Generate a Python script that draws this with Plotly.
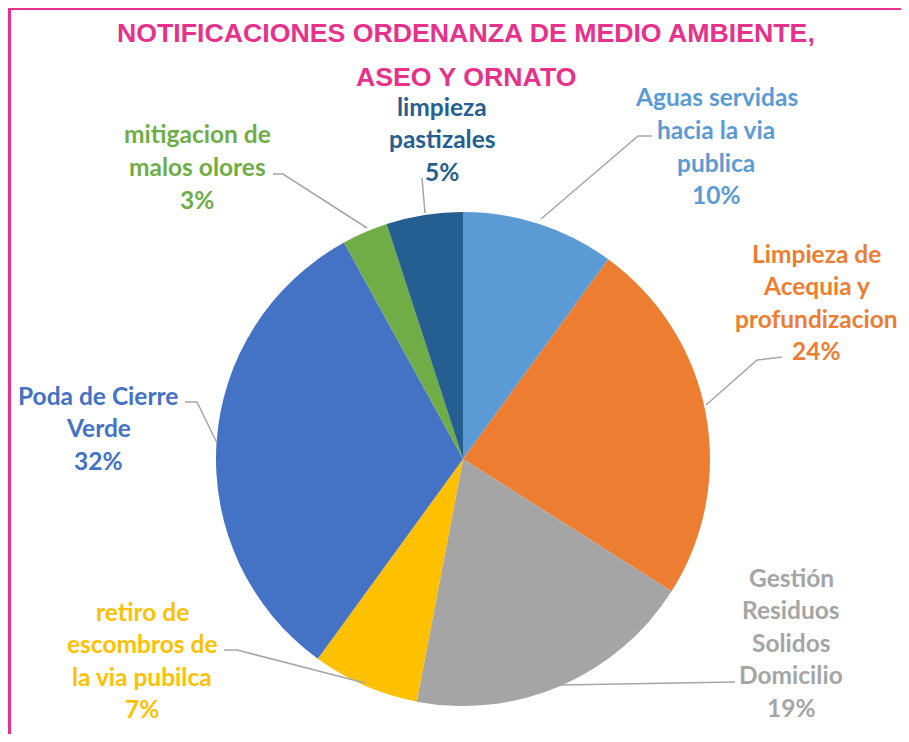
import plotly.graph_objects as go

# ---------------- data ----------------
categories = [
    "Aguas servidas<br>hacia la via<br>publica",
    "Limpieza de<br>Acequia y<br>profundizacion",
    "Gestión<br>Residuos<br>Solidos<br>Domicilio",
    "retiro de<br>escombros de<br>la via pubilca",
    "Poda de Cierre<br>Verde",
    "mitigacion de<br>malos olores",
    "limpieza<br>pastizales",
]
percent_values = [10, 24, 19, 7, 32, 3, 5]
slice_colors = ["#5B9BD5", "#ED7D31", "#A5A5A5", "#FFC000", "#4472C4", "#70AD47", "#255E91"]
title_lines = ["NOTIFICACIONES ORDENANZA DE MEDIO AMBIENTE,", "ASEO Y ORNATO"]

# ---------------- layout helpers (page pixel -> paper) ----------------
W, H = 893, 726   # body has an 8px margin in the written page
OFF = 8


def px(X):
    return (X - OFF) / W


def py(Y):
    return 1 - (Y - OFF) / H


cx, cy, R = 463, 459, 247

fig = go.Figure(go.Pie(
    labels=[c.replace("<br>", " ") for c in categories],
    values=percent_values,
    sort=False,
    direction="clockwise",
    rotation=0,
    marker=dict(colors=slice_colors, line=dict(width=0)),
    textinfo="none",
    hoverinfo="label+percent",
    showlegend=False,
    domain=dict(x=[px(cx - R), px(cx + R)], y=[py(cy + R), py(cy - R)]),
))

LABEL_FONT = "Lato"
label_size = 24.5
spacing = 32.5
label_pos = [(716, 97), (816, 253), (791, 577), (142, 611), (98, 395), (197, 134), (442, 106)]

annotations = []
for cat, val, col, (lx, ly) in zip(categories, percent_values, slice_colors, label_pos):
    lines = cat.split("<br>") + [f"{val}%"]
    for i, ln in enumerate(lines):
        annotations.append(dict(
            x=px(lx), y=py(ly + i * spacing), xref="paper", yref="paper",
            text=f"<b>{ln}</b>", showarrow=False, xanchor="center", yanchor="middle",
            font=dict(family=LABEL_FONT, size=label_size, color=col),
        ))

title_y = [33, 77]
for t, ty in zip(title_lines, title_y):
    annotations.append(dict(
        x=px(466), y=py(ty), xref="paper", yref="paper", text=f"<b>{t}</b>",
        showarrow=False, xanchor="center", yanchor="middle",
        font=dict(family="Liberation Sans", size=26.7, color="#E8318A"),
    ))

leaders = [
    [(652, 136), (638, 136), (541, 219)],
    [(782, 357), (757, 360), (706, 405)],
    [(735, 682), (560, 685)],
    [(224, 650), (237, 650), (365, 683)],
    [(185, 402), (197, 402), (217, 443)],
    [(273, 174), (283, 174), (367, 228)],
    [(422, 178), (425, 213)],
]
shapes = []
for pts in leaders:
    path = "M " + " L ".join(f"{px(x):.5f},{py(y):.5f}" for x, y in pts)
    shapes.append(dict(type="path", path=path, xref="paper", yref="paper",
                       line=dict(color="#A6A6A6", width=1.5)))

# pink frame (right/bottom edges lie outside the visible window)
shapes.append(dict(type="rect", xref="paper", yref="paper",
                   x0=px(9.5), y0=-0.2, x1=1.2, y1=py(8.5),
                   line=dict(color="#E8318A", width=3)))

fig.update_layout(
    width=W, height=H,
    margin=dict(l=0, r=0, t=0, b=0),
    paper_bgcolor="white", plot_bgcolor="white",
    annotations=annotations, shapes=shapes,
)

fig.write_html("out.html")
